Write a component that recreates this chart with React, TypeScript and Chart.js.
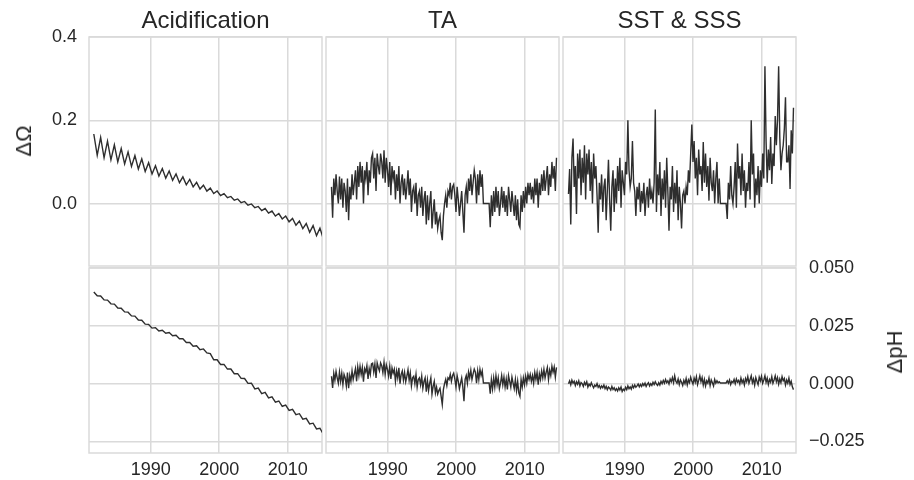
import React, { useEffect, useRef } from "react";
import { Chart, registerables } from "chart.js";

Chart.register(...registerables);

// ---------- data ----------
const X_MIN = 1981;
const X_MAX = 2015;
const YEAR_TICKS = [1990, 2000, 2010];
const OMEGA_TICKS = [0.0, 0.2, 0.4];
const PH_TICKS = [-0.025, 0.0, 0.025, 0.05];
const OMEGA_RANGE = [-0.15, 0.4];
const PH_RANGE = [-0.03, 0.05];
const TITLES = ["Acidification", "TA", "SST & SSS"];
const Y_LABEL_TOP = "ΔΩ";
const Y_LABEL_BOTTOM = "ΔpH";

// half-yearly samples (seasonal extremes) for the acidification series
const ACID_START = 1981.7;
const ACID_STEP = 0.5;
// six samples per year for the other drivers
const NOISE_START = 1981.8;
const NOISE_STEP = 1 / 6;

const acidOmega = [
  0.167, 0.116, 0.159, 0.110, 0.150, 0.105, 0.141, 0.100, 0.132, 0.095,
  0.124, 0.089, 0.115, 0.083, 0.107, 0.077, 0.098, 0.071, 0.091, 0.066,
  0.084, 0.061, 0.078, 0.056, 0.071, 0.050, 0.064, 0.045, 0.058, 0.040,
  0.051, 0.035, 0.044, 0.030, 0.037, 0.024, 0.030, 0.019, 0.024, 0.014,
  0.017, 0.008, 0.011, 0.002, 0.005, -0.004, -0.001, -0.010, -0.007, -0.017,
  -0.012, -0.023, -0.018, -0.030, -0.024, -0.037, -0.030, -0.044, -0.036, -0.052,
  -0.042, -0.060, -0.048, -0.069, -0.053, -0.077, -0.059, -0.085,
];

const acidPH = [
  0.0396, 0.0380, 0.0379, 0.0362, 0.0361, 0.0345, 0.0344, 0.0327, 0.0326, 0.0310,
  0.0309, 0.0293, 0.0292, 0.0275, 0.0274, 0.0257, 0.0256, 0.0240, 0.0242, 0.0228,
  0.0231, 0.0218, 0.0221, 0.0207, 0.0209, 0.0194, 0.0194, 0.0178, 0.0178, 0.0162,
  0.0164, 0.0147, 0.0150, 0.0133, 0.0130, 0.0103, 0.0103, 0.0083, 0.0083, 0.0063,
  0.0063, 0.0043, 0.0043, 0.0023, 0.0022, 0.0001, 0.0002, -0.0023, -0.0019, -0.0043,
  -0.0038, -0.0062, -0.0057, -0.0080, -0.0075, -0.0098, -0.0093, -0.0116, -0.0111, -0.0134,
  -0.0130, -0.0154, -0.0150, -0.0174, -0.0171, -0.0196, -0.0193, -0.0219,
];

const taOmega = [
  0.04, -0.034, 0.06, 0.02, 0.07, 0.03,
  0.00, 0.065, 0.01, 0.06, -0.01, 0.05,
  0.03, -0.02, 0.06, -0.04, 0.04, 0.01,
  0.07, 0.02, 0.05, 0.08, 0.01, 0.09,
  0.04, 0.10, 0.05, 0.09, 0.00, 0.08,
  0.06, 0.10, 0.02, 0.08, 0.05, 0.11,
  0.12, 0.06, 0.11, 0.03, 0.12, 0.09,
  0.07, 0.12, 0.10, 0.06, 0.128, 0.05,
  0.11, 0.08, 0.04, 0.10, 0.02, 0.09,
  0.06, 0.08, 0.01, 0.07, 0.03, 0.09,
  0.00, 0.05, 0.07, 0.02, 0.06, 0.01,
  0.04, 0.08, 0.02, 0.06, -0.02, 0.03,
  0.04, 0.00, 0.05, -0.03, 0.02, 0.03,
  -0.01, 0.04, -0.03, 0.01, 0.03, -0.05,
  0.02, -0.04, 0.00, 0.03, -0.06, -0.02,
  0.01, -0.05, -0.02, -0.06, -0.04, -0.03,
  -0.07, -0.088, -0.03, 0.00, 0.02, -0.01,
  0.03, 0.02, 0.05, 0.01, 0.04, 0.046,
  0.02, -0.02, 0.04, 0.01, -0.03, 0.00,
  0.03, -0.02, -0.07, 0.02, 0.04, 0.00,
  0.06, 0.03, 0.07, 0.02, 0.05, 0.08,
  0.06, 0.00, 0.07, 0.02, 0.08, 0.04,
  0.07, 0.00, 0.00, 0.00, 0.00, 0.00,
  0.00, -0.057, 0.02, -0.03, 0.03, -0.02,
  0.04, -0.01, 0.03, -0.03, 0.00, 0.04,
  -0.01, 0.03, -0.02, 0.02, -0.03, 0.04,
  0.01, -0.02, 0.03, 0.00, -0.03, 0.02,
  -0.04, 0.01, -0.05, -0.057, 0.02, -0.02,
  0.03, -0.01, 0.04, 0.00, 0.05, 0.02,
  0.05, 0.01, 0.04, 0.00, 0.06, 0.02,
  0.06, -0.01, 0.05, 0.02, 0.07, 0.03,
  0.08, 0.03, 0.06, 0.09, 0.02, 0.07,
  0.04, 0.10, 0.06, 0.09, 0.03, 0.11,
];

const taPH = [
  0.0032, -0.0019, 0.0045, 0.0015, 0.0053, 0.0025,
  0.0002, 0.0050, 0.0010, 0.0045, -0.0004, 0.0040,
  0.0025, -0.0010, 0.0048, -0.0020, 0.0035, 0.0010,
  0.0055, 0.0018, 0.0042, 0.0065, 0.0010, 0.0072,
  0.0035, 0.0075, 0.0040, 0.0070, 0.0008, 0.0065,
  0.0050, 0.0078, 0.0020, 0.0065, 0.0040, 0.0085,
  0.0088, 0.0050, 0.0085, 0.0025, 0.0090, 0.0070,
  0.0055, 0.0090, 0.0078, 0.0048, 0.0092, 0.0040,
  0.0082, 0.0062, 0.0032, 0.0075, 0.0020, 0.0068,
  0.0045, 0.0062, 0.0010, 0.0055, 0.0025, 0.0068,
  0.0000, 0.0040, 0.0055, 0.0015, 0.0048, 0.0008,
  0.0032, 0.0060, 0.0015, 0.0046, -0.0010, 0.0025,
  0.0032, 0.0000, 0.0040, -0.0015, 0.0018, 0.0025,
  -0.0005, 0.0032, -0.0020, 0.0010, 0.0025, -0.0035,
  0.0015, -0.0030, 0.0002, 0.0025, -0.0045, -0.0012,
  0.0010, -0.0040, -0.0015, -0.0045, -0.0030, -0.0020,
  -0.0055, -0.0090, -0.0025, 0.0000, 0.0018, -0.0008,
  0.0025, 0.0018, 0.0040, 0.0010, 0.0035, 0.0045,
  0.0020, -0.0015, 0.0035, 0.0010, -0.0022, 0.0002,
  0.0025, -0.0015, -0.0076, 0.0018, 0.0035, 0.0002,
  0.0050, 0.0025, 0.0058, 0.0018, 0.0042, 0.0063,
  0.0050, 0.0002, 0.0055, 0.0018, 0.0062, 0.0035,
  0.0055, 0.0003, 0.0003, 0.0003, 0.0003, 0.0003,
  0.0003, -0.0043, 0.0018, -0.0022, 0.0025, -0.0015,
  0.0035, -0.0005, 0.0025, -0.0022, 0.0002, 0.0035,
  -0.0005, 0.0028, -0.0015, 0.0020, -0.0025, 0.0035,
  0.0010, -0.0015, 0.0028, 0.0002, -0.0022, 0.0018,
  -0.0030, 0.0010, -0.0040, -0.0055, 0.0018, -0.0015,
  0.0025, -0.0005, 0.0032, 0.0002, 0.0040, 0.0018,
  0.0040, 0.0010, 0.0035, 0.0002, 0.0048, 0.0018,
  0.0048, -0.0005, 0.0042, 0.0018, 0.0055, 0.0025,
  0.0062, 0.0025, 0.0050, 0.0070, 0.0018, 0.0058,
  0.0035, 0.0075, 0.0050, 0.0072, 0.0028, 0.0070,
];

const sstOmega = [
  0.023, 0.083, -0.05, 0.11, 0.156, 0.04,
  0.09, -0.025, 0.12, 0.06, 0.13, 0.02,
  0.11, 0.05, 0.14, 0.01, 0.12, 0.07,
  0.13, 0.03, 0.10, 0.00, 0.12, 0.06,
  0.09, 0.02, -0.07, 0.05, 0.01, 0.07,
  -0.02, 0.04, 0.06, -0.04, 0.03, 0.105,
  0.01, -0.065, 0.04, 0.08, -0.02, 0.06,
  0.00, 0.09, 0.03, 0.11, -0.01, 0.08,
  0.05, 0.02, 0.10, 0.07, 0.20, 0.08,
  0.04, 0.06, 0.15, 0.05, 0.03, -0.03,
  0.04, 0.01, 0.05, -0.02, 0.03, 0.00,
  0.05, -0.03, 0.02, 0.04, -0.01, 0.06,
  0.01, 0.03, 0.00, 0.05, 0.226, -0.02,
  0.07, 0.02, 0.10, -0.03, 0.06, 0.01,
  0.08, -0.01, 0.11, 0.03, -0.065, 0.04,
  0.01, 0.09, -0.02, 0.05, 0.00, 0.08,
  -0.04, 0.04, 0.00, -0.06, 0.02, 0.03,
  0.00, 0.04, 0.02, 0.08, 0.05, 0.12,
  0.19, 0.10, 0.15, 0.06, 0.11, 0.02,
  0.13, 0.07, 0.09, 0.03, 0.148, 0.05,
  0.12, 0.04, 0.09, 0.007, 0.11, 0.05,
  0.03, 0.08, 0.00, 0.06, 0.10, 0.00,
  0.06, 0.00, 0.00, 0.00, 0.00, 0.00,
  0.00, -0.037, 0.05, 0.01, 0.09, 0.02,
  0.00, 0.04, 0.10, -0.01, 0.144, 0.06,
  0.09, 0.02, 0.12, 0.03, 0.08, -0.01,
  0.05, 0.03, 0.10, 0.01, 0.20, 0.07,
  0.12, -0.01, 0.06, 0.02, 0.09, 0.00,
  0.08, 0.04, 0.12, 0.06, 0.33, 0.15,
  0.05, 0.13, 0.08, 0.16, 0.047, 0.12,
  0.09, 0.21, 0.14, 0.20, 0.33, 0.16,
  0.08, 0.12, 0.14, 0.18, 0.255, 0.10,
  0.10, 0.14, 0.035, 0.176, 0.12, 0.23,
];

const sstPH = [
  -0.0001, 0.0012, -0.0005, 0.0015, 0.0002, 0.0010,
  -0.0008, 0.0008, -0.0003, 0.0012, -0.0010, 0.0005,
  0.0000, -0.0012, 0.0006, -0.0005, 0.0008, -0.0015,
  -0.0002, -0.0010, 0.0004, -0.0008, -0.0018, -0.0006,
  -0.0012, 0.0000, -0.0016, -0.0008, -0.0020, -0.0010,
  -0.0018, -0.0006, -0.0022, -0.0012, -0.0026, -0.0015,
  -0.0020, -0.0028, -0.0012, -0.0025, -0.0018, -0.0030,
  -0.0022, -0.0032, -0.0018, -0.0028, -0.0015, -0.0034,
  -0.0024, -0.0030, -0.0016, -0.0026, -0.0010, -0.0022,
  -0.0014, -0.0024, -0.0008, -0.0018, -0.0006, -0.0016,
  -0.0010, -0.0002, -0.0014, -0.0004, -0.0012, 0.0000,
  -0.0008, 0.0002, -0.0012, -0.0002, 0.0004, -0.0010,
  0.0000, -0.0008, 0.0006, -0.0004, 0.0008, -0.0002,
  -0.0008, 0.0004, -0.0006, 0.0010, 0.0000, 0.0014,
  0.0002, 0.0018, 0.0004, 0.0012, -0.0002, 0.0020,
  0.0008, 0.0026, 0.0004, 0.0034, 0.0010, 0.0002,
  0.0020, -0.0004, 0.0016, 0.0006, -0.0008, 0.0014,
  0.0000, 0.0022, -0.0006, 0.0016, 0.0004, 0.0028,
  0.0010, -0.0002, 0.0024, 0.0006, 0.0030, -0.0004,
  0.0014, 0.0034, 0.0008, 0.0026, -0.0006, 0.0018,
  -0.0010, 0.0012, 0.0002, 0.0024, -0.0008, 0.0016,
  0.0004, -0.0010, 0.0018, 0.0002, 0.0012, 0.0003,
  0.0008, 0.0003, 0.0003, 0.0003, 0.0003, 0.0003,
  0.0003, 0.0012, 0.0002, 0.0016, -0.0004, 0.0010,
  0.0004, 0.0018, 0.0000, 0.0020, 0.0006, 0.0014,
  -0.0002, 0.0024, 0.0004, 0.0016, -0.0006, 0.0022,
  0.0008, 0.0030, 0.0002, 0.0018, 0.0034, 0.0004,
  0.0020, -0.0006, 0.0026, 0.0010, -0.0004, 0.0028,
  0.0012, 0.0032, 0.0002, 0.0016, 0.0034, 0.0006,
  0.0024, -0.0004, 0.0018, 0.0006, 0.0030, 0.0002,
  0.0016, 0.0034, 0.0008, 0.0026, -0.0002, 0.0020,
  0.0004, 0.0030, 0.0012, 0.0022, -0.0006, 0.0016,
  0.0002, 0.0024, -0.0004, 0.0010, -0.0014, -0.0026,
];

// ---------- styles ----------
const FONT = "'Liberation Sans', Arial, Helvetica, sans-serif";
const TEXT = "#262626";
const GRID = "#dadada";
const LINE = "#2e2e2e";

type Panel = {
  key: string;
  title?: string;
  values: number[];
  start: number;
  step: number;
  yRange: number[];
  yTicks: number[];
  decimals: number;
  yPos: "left" | "right";
  showY: boolean;
  showX: boolean;
  left: number;
  top: number;
  width: number;
  height: number;
  pad: { left: number; right: number; top: number; bottom: number };
  yWidth: number;
  xHeight: number;
};

const COL_L = [89, 326, 563];
const PW = 233;

const PANELS: Panel[] = [
  // top row: plot area y 37..266
  {
    key: "a1", title: TITLES[0], values: acidOmega, start: ACID_START, step: ACID_STEP,
    yRange: OMEGA_RANGE, yTicks: OMEGA_TICKS, decimals: 1, yPos: "left", showY: true, showX: false,
    left: 0, top: 0, width: COL_L[0] + PW + 2, height: 268,
    pad: { left: 0, right: 2, top: 0, bottom: 2 }, yWidth: COL_L[0], xHeight: 0,
  },
  {
    key: "t1", title: TITLES[1], values: taOmega, start: NOISE_START, step: NOISE_STEP,
    yRange: OMEGA_RANGE, yTicks: OMEGA_TICKS, decimals: 1, yPos: "left", showY: false, showX: false,
    left: COL_L[1] - 2, top: 0, width: PW + 4, height: 268,
    pad: { left: 2, right: 2, top: 0, bottom: 2 }, yWidth: 0, xHeight: 0,
  },
  {
    key: "s1", title: TITLES[2], values: sstOmega, start: NOISE_START, step: NOISE_STEP,
    yRange: OMEGA_RANGE, yTicks: OMEGA_TICKS, decimals: 1, yPos: "left", showY: false, showX: false,
    left: COL_L[2] - 2, top: 0, width: PW + 4, height: 268,
    pad: { left: 2, right: 2, top: 0, bottom: 2 }, yWidth: 0, xHeight: 0,
  },
  // bottom row: plot area y 268..453
  {
    key: "a2", values: acidPH, start: ACID_START, step: ACID_STEP,
    yRange: PH_RANGE, yTicks: PH_TICKS, decimals: 3, yPos: "left", showY: false, showX: true,
    left: COL_L[0] - 2, top: 250, width: PW + 4, height: 230,
    pad: { left: 2, right: 2, top: 18, bottom: 0 }, yWidth: 0, xHeight: 27,
  },
  {
    key: "t2", values: taPH, start: NOISE_START, step: NOISE_STEP,
    yRange: PH_RANGE, yTicks: PH_TICKS, decimals: 3, yPos: "left", showY: false, showX: true,
    left: COL_L[1] - 2, top: 250, width: PW + 4, height: 230,
    pad: { left: 2, right: 2, top: 18, bottom: 0 }, yWidth: 0, xHeight: 27,
  },
  {
    key: "s2", values: sstPH, start: NOISE_START, step: NOISE_STEP,
    yRange: PH_RANGE, yTicks: PH_TICKS, decimals: 3, yPos: "right", showY: true, showX: true,
    left: COL_L[2] - 2, top: 250, width: 914 - (COL_L[2] - 2), height: 230,
    pad: { left: 2, right: 0, top: 18, bottom: 0 }, yWidth: 914 - (COL_L[2] + PW), xHeight: 27,
  },
];

const framePlugin = {
  id: "frame",
  beforeDatasetsDraw(chart: any) {
    const { ctx, chartArea } = chart;
    const { left, top, right, bottom } = chartArea;
    ctx.save();
    ctx.strokeStyle = GRID;
    ctx.lineWidth = 1.5;
    ctx.strokeRect(left, top, right - left, bottom - top);
    ctx.restore();
  },
};

function fmt(v: number, decimals: number) {
  const s = Math.abs(v).toFixed(decimals);
  return (v < -1e-12 ? "\u2212" : "") + s;
}

function PanelChart({ p }: { p: Panel }) {
  const ref = useRef<HTMLCanvasElement | null>(null);
  useEffect(() => {
    if (!ref.current) return;
    const data = p.values.map((v, i) => ({ x: p.start + i * p.step, y: v }));
    const chart = new Chart(ref.current, {
      type: "line",
      data: {
        datasets: [
          {
            data,
            borderColor: LINE,
            borderWidth: 1.4,
            pointRadius: 0,
            tension: 0,
            fill: false,
          },
        ],
      },
      options: {
        animation: false,
        responsive: false,
        events: [],
        layout: { padding: p.pad },
        plugins: {
          legend: { display: false },
          tooltip: { enabled: false },
          title: p.title
            ? {
                display: true,
                text: p.title,
                fullSize: false,
                color: TEXT,
                font: { family: FONT, size: 24, weight: "normal" as any, lineHeight: 1.2 },
                padding: { top: 7, bottom: 1.2 },
              }
            : { display: false },
        },
        scales: {
          x: {
            type: "linear",
            min: X_MIN,
            max: X_MAX,
            afterBuildTicks: (s: any) => {
              s.ticks = YEAR_TICKS.map((v) => ({ value: v }));
            },
            afterFit: (s: any) => {
              s.height = p.xHeight;
              s.paddingLeft = 0;
              s.paddingRight = 0;
              s.paddingTop = 0;
              s.paddingBottom = 0;
            },
            grid: { color: GRID, lineWidth: 1.5, drawTicks: false },
            border: { display: false },
            ticks: {
              display: p.showX,
              color: TEXT,
              font: { family: FONT, size: 18 },
              padding: 6,
              maxRotation: 0,
              autoSkip: false,
              callback: (v: any) => String(v),
            },
          },
          y: {
            type: "linear",
            position: p.yPos,
            min: p.yRange[0],
            max: p.yRange[1],
            afterBuildTicks: (s: any) => {
              s.ticks = p.yTicks.map((v) => ({ value: v }));
            },
            afterFit: (s: any) => {
              s.width = p.yWidth;
              s.paddingLeft = 0;
              s.paddingRight = 0;
              s.paddingTop = 0;
              s.paddingBottom = 0;
            },
            grid: { color: GRID, lineWidth: 1.5, drawTicks: false },
            border: { display: false },
            ticks: {
              display: p.showY,
              color: TEXT,
              font: { family: FONT, size: 18 },
              padding: p.yPos === "left" ? 12 : 13,
              autoSkip: false,
              callback: (v: any) => fmt(Number(v), p.decimals),
            },
          },
        },
      } as any,
      plugins: [framePlugin],
    });
    return () => chart.destroy();
  }, [p]);
  return (
    <canvas
      ref={ref}
      width={p.width}
      height={p.height}
      style={{ position: "absolute", left: p.left, top: p.top, width: p.width, height: p.height }}
    />
  );
}

export default function App() {
  const labelStyle: React.CSSProperties = {
    position: "absolute",
    fontFamily: FONT,
    fontSize: 22,
    color: TEXT,
    lineHeight: 1,
    whiteSpace: "nowrap",
    transform: "translate(-50%, -50%) rotate(-90deg)",
  };
  return (
    <div
      style={{
        position: "fixed",
        left: 0,
        top: 0,
        width: 914,
        height: 480,
        background: "#ffffff",
        overflow: "hidden",
      }}
    >
      {PANELS.map((p) => (
        <PanelChart key={p.key} p={p} />
      ))}
      <div style={{ ...labelStyle, left: 24, top: 141 }}>{Y_LABEL_TOP}</div>
      <div style={{ ...labelStyle, left: 895, top: 352 }}>{Y_LABEL_BOTTOM}</div>
    </div>
  );
}
